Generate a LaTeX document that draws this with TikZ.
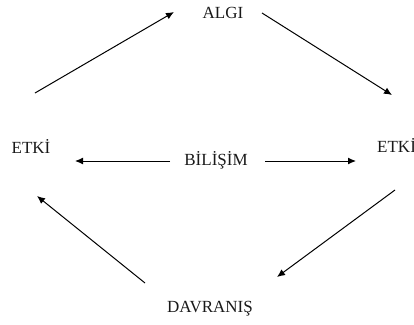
\documentclass[tikz,border=0pt]{standalone}
\usepackage{fontspec}
\setmainfont{Liberation Serif}
\usetikzlibrary{arrows.meta}
\begin{document}
\begin{tikzpicture}[x=1pt,y=-1pt,
  lbl/.style={font=\fontsize{17}{19}\selectfont, inner sep=0pt, text=black!90},
  arr/.style={line width=1pt, -{Latex[length=8pt,width=7pt]}}]
\useasboundingbox (0,0) rectangle (414,324);
\node[lbl] (algi) at (223,13) {ALGI};
\node[lbl] (etkiL) at (31,146) {ETKİ};
\node[lbl, anchor=west] (etkiR) at (377,145) {ETKİ};
\node[lbl] (bil) at (216,160) {BİLİŞİM};
\node[lbl] (dav) at (210,309) {DAVRANIŞ};
\coordinate (a1s) at (35,93);
\coordinate (a1e) at (174,12);
\coordinate (a2s) at (262,13);
\coordinate (a2e) at (392,95);
\coordinate (bls) at (170,161);
\coordinate (ble) at (75,161);
\coordinate (brs) at (265,161);
\coordinate (bre) at (356,161);
\coordinate (a3s) at (145,283);
\coordinate (a3e) at (37,196);
\coordinate (a4s) at (395,190);
\coordinate (a4e) at (277,277);
\draw[arr] (a1s) -- (a1e);
\draw[arr] (a2s) -- (a2e);
\draw[arr] (bls) -- (ble);
\draw[arr] (brs) -- (bre);
\draw[arr] (a3s) -- (a3e);
\draw[arr] (a4s) -- (a4e);
\end{tikzpicture}
\end{document}
